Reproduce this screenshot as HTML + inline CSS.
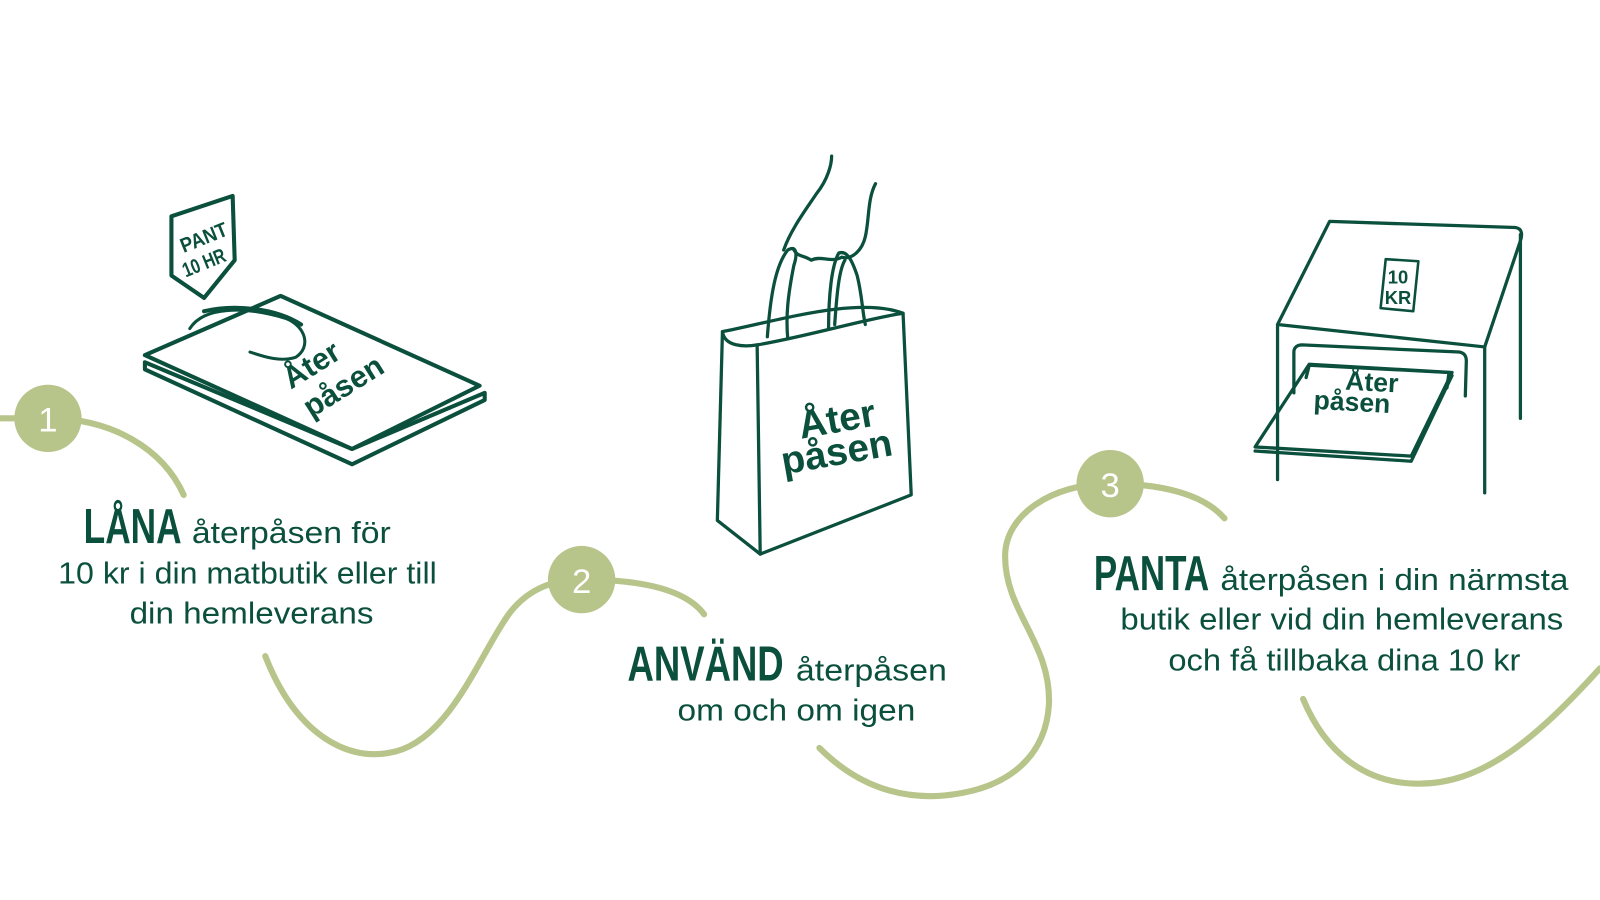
<!DOCTYPE html>
<html><head><meta charset="utf-8"><style>
html,body{margin:0;padding:0;background:#fff;}
svg{display:block;}
.b{font-family:"Liberation Sans",sans-serif;font-weight:bold;fill:#0b4f3d;}
.r{font-family:"Liberation Sans",sans-serif;fill:#0b4f3d;font-size:30px;}
.ln{fill:none;stroke:#0b4f3d;stroke-width:3.2;stroke-linejoin:round;stroke-linecap:round;}
.cv{fill:none;stroke:#b7c48a;stroke-width:6;stroke-linecap:round;}
.lg{font-family:"Liberation Sans",sans-serif;font-weight:bold;fill:#0b4f3d;}
</style></head><body>
<svg width="1600" height="900" viewBox="0 0 1568 882" preserveAspectRatio="none">
<!-- curves -->
<path class="cv" d="M0,410 L47,410 C110,410 160,440 180,485"/>
<path class="cv" d="M260,643 C290,720 340,745 380,738 C440,730 470,640 500,600 C520,575 545,568 570,568 C620,568 670,575 690,602"/>
<path class="cv" d="M803,733 C840,770 880,782 920,780 C990,775 1025,740 1028,690 C1030,630 985,600 985,545 C985,505 1030,474 1088,474 C1140,474 1180,485 1200,508"/>
<path class="cv" d="M1277,685 C1300,740 1340,768 1390,768 C1450,768 1500,730 1568,655"/>
<circle cx="47" cy="410" r="33" fill="#b7c48a"/>
<circle cx="570" cy="568" r="33" fill="#b7c48a"/>
<circle cx="1088" cy="474" r="33" fill="#b7c48a"/>
<text x="47" y="423" text-anchor="middle" font-family="Liberation Sans" font-size="34" fill="#fff">1</text>
<text x="570" y="581" text-anchor="middle" font-family="Liberation Sans" font-size="34" fill="#fff">2</text>
<text x="1088" y="487" text-anchor="middle" font-family="Liberation Sans" font-size="34" fill="#fff">3</text>

<!-- text 1 -->
<text x="82" y="532" class="b" font-size="48" textLength="96" lengthAdjust="spacingAndGlyphs">LÅNA</text>
<text x="188" y="532" class="r" textLength="195" lengthAdjust="spacingAndGlyphs">återpåsen för</text>
<text x="57" y="572" class="r" textLength="371" lengthAdjust="spacingAndGlyphs">10 kr i din matbutik eller till</text>
<text x="127" y="611" class="r" textLength="239" lengthAdjust="spacingAndGlyphs">din hemleverans</text>
<!-- text 2 -->
<text x="615" y="667" class="b" font-size="48" textLength="153" lengthAdjust="spacingAndGlyphs">ANVÄND</text>
<text x="780" y="667" class="r" textLength="148" lengthAdjust="spacingAndGlyphs">återpåsen</text>
<text x="664" y="706" class="r" textLength="233" lengthAdjust="spacingAndGlyphs">om och om igen</text>
<!-- text 3 -->
<text x="1072" y="578" class="b" font-size="48" textLength="113" lengthAdjust="spacingAndGlyphs">PANTA</text>
<text x="1196" y="578" class="r" textLength="341" lengthAdjust="spacingAndGlyphs">återpåsen i din närmsta</text>
<text x="1098" y="617" class="r" textLength="434" lengthAdjust="spacingAndGlyphs">butik eller vid din hemleverans</text>
<text x="1145" y="657" class="r" textLength="345" lengthAdjust="spacingAndGlyphs">och få tillbaka dina 10 kr</text>

<!-- flat bag -->
<g class="ln" style="stroke-width:4">
<polygon points="142,362 142,355 345,440 475,385 475,392 345,455"/>
<polygon points="142,348 275,290 470,378 345,440"/>
<path d="M186,322 C200,300 240,300 280,312 C300,320 305,340 290,350 C275,355 260,350 245,345" style="stroke-width:3"/>
<path d="M200,305 C230,298 270,302 295,318"/>
<polygon points="168,212 228,192 230,255 200,292 168,270"/>
</g>
<text transform="translate(180,248) rotate(-22)" class="lg" font-size="20" textLength="48" lengthAdjust="spacingAndGlyphs">PANT</text>
<text transform="translate(182,272) rotate(-22)" class="lg" font-size="20" textLength="44" lengthAdjust="spacingAndGlyphs">10 HR</text>
<text transform="translate(285,382) rotate(-32)" class="lg" font-size="30">Åter</text>
<text transform="translate(305,410) rotate(-32)" class="lg" font-size="30">påsen</text>

<!-- tote -->
<g class="ln">
<path d="M708,325 C760,315 840,290 885,307 L893,485 L745,543 L703,510 Z"/>
<path d="M708,325 C710,340 730,340 742,338 C790,330 850,312 885,307"/>
<path d="M742,338 L745,543"/>
<path d="M752,330 C755,290 760,260 772,245 C780,240 782,248 778,260 C772,290 770,310 772,332"/>
<path d="M812,322 C812,290 815,260 822,248 C830,245 835,255 840,270 C845,290 845,305 848,318"/>
<path d="M818,318 C820,290 822,265 828,255"/>
<path d="M768,245 C775,225 790,205 800,190 C812,175 815,160 815,153"/>
<path d="M858,180 C850,195 852,215 848,232 C845,245 835,255 825,252 C815,258 805,250 795,255 C788,250 782,252 778,245"/>
</g>
<text transform="translate(785,430) rotate(-10)" class="lg" font-size="38">Åter</text>
<text transform="translate(768,465) rotate(-10)" class="lg" font-size="38">påsen</text>

<!-- machine -->
<g class="ln">
<path d="M1252,470 L1252,318 L1303,217 L1485,223 C1492,224 1492,230 1490,236 L1455,340 L1252,318"/>
<path d="M1455,340 L1455,483"/>
<path d="M1490,230 L1490,410"/>
<path d="M1268,385 L1268,345 C1268,340 1272,338 1276,338 L1430,345 C1436,346 1437,350 1437,354 L1436,388"/>
<path d="M1280,370 L1283,358 L1420,365 L1418,380"/>
<polygon points="1230,438 1283,357 1423,365 1383,447"/>
<path d="M1230,442 L1383,452 L1423,368"/>
<path d="M1358,254 L1390,256 L1385,305 L1353,302 Z" style="stroke-width:2.5"/>
</g>
<text x="1360" y="278" class="lg" font-size="18">10</text>
<text x="1357" y="298" class="lg" font-size="18">KR</text>
<text x="1318" y="383" class="lg" font-size="26" transform="rotate(3 1340 383)">Åter</text>
<text x="1287" y="403" class="lg" font-size="26" transform="rotate(3 1330 403)">påsen</text>
</svg>
</body></html>
